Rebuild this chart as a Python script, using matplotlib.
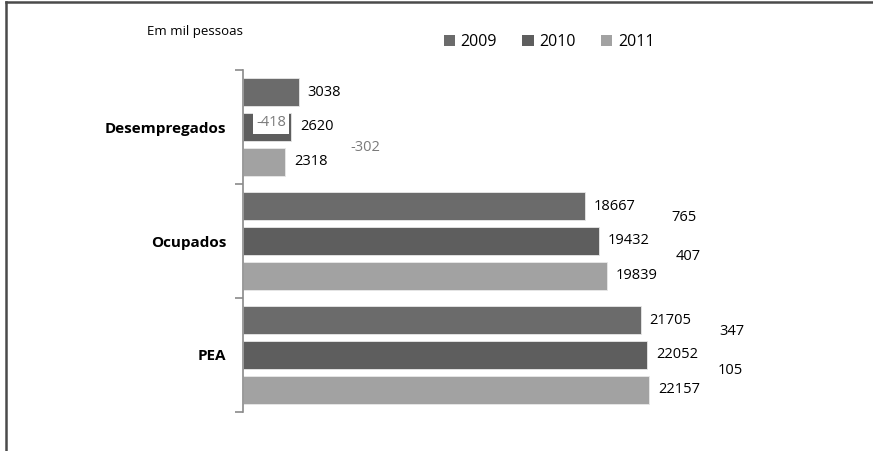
import matplotlib
matplotlib.use("Agg")
import matplotlib.pyplot as plt
from matplotlib.patches import Patch
from matplotlib.lines import Line2D
from matplotlib import transforms
import numpy as np

plt.rcParams['font.family'] = ['Open Sans', 'DejaVu Sans']

categories = ["Desempregados", "Ocupados", "PEA"]
years = ["2009", "2010", "2011"]
v2009 = [3038, 18667, 21705]
v2010 = [2620, 19432, 22052]
v2011 = [2318, 19839, 22157]
diff_09_10 = [-418, 765, 347]
diff_10_11 = [-302, 407, 105]

colors = ["#6b6b6b", "#5e5e5e", "#a2a2a2"]

W, H = 873, 451
fig = plt.figure(figsize=(W / 100, H / 100), dpi=100)

# axes placed in pixel terms: spine at x=243, bands from y=70 to y=412
left, right_px = 243, 843
top, bottom = 70, 412
ax = fig.add_axes([left / W, 1 - bottom / H, (right_px - left) / W, (bottom - top) / H])
px_per_unit = (649 - 243) / 22157.0
ax.set_xlim(0, (right_px - left) / px_per_unit)
ax.set_ylim(len(categories) - 0.5, -0.5)

y = np.arange(len(categories))
off = 0.305
hgt = 0.25
series = [v2009, v2010, v2011]
for i, vals in enumerate(series):
    ax.barh(y + (i - 1) * off, vals, height=hgt, color=colors[i],
            edgecolor="#e8e8e8", linewidth=0.6, zorder=2)

# value labels
for i, vals in enumerate(series):
    for j, v in enumerate(vals):
        tr = transforms.offset_copy(ax.transData, fig=fig, x=9, y=0, units='dots')
        ax.text(v, y[j] + (i - 1) * off, str(v), transform=tr, ha='left',
                va='center', fontsize=10.5, color='black', clip_on=False)

# differences
for j in range(len(categories)):
    d1, d2 = diff_09_10[j], diff_10_11[j]
    if j == 0:
        # the -418 sits inside the 2010 bar with a white box
        tr = transforms.offset_copy(ax.transData, fig=fig, x=13, y=4, units='dots')
        ax.text(0, y[j], str(d1), transform=tr, ha='left', va='center',
                fontsize=10.5, color='#7a7a7a', zorder=3,
                bbox=dict(facecolor='white', edgecolor='none', pad=2.5))
        xr = max(v2010[j], v2011[j])
        tr = transforms.offset_copy(ax.transData, fig=fig, x=59, y=-3, units='dots')
        ax.text(xr, y[j] + off / 2, str(d2), transform=tr, ha='left', va='center',
                fontsize=10.5, color='#7a7a7a', clip_on=False)
    else:
        xa = max(v2009[j], v2010[j])
        tr = transforms.offset_copy(ax.transData, fig=fig, x=72, y=6, units='dots')
        ax.text(xa, y[j] - off / 2, str(d1), transform=tr, ha='left', va='center',
                fontsize=10.5, color='black', clip_on=False)
        xb = max(v2010[j], v2011[j])
        tr = transforms.offset_copy(ax.transData, fig=fig, x=69, y=2, units='dots')
        ax.text(xb, y[j] + off / 2, str(d2), transform=tr, ha='left', va='center',
                fontsize=10.5, color='black', clip_on=False)

ax.set_yticks(y)
ax.set_yticklabels(categories, fontsize=11, fontweight='bold')
ax.tick_params(axis='y', which='major', length=0, pad=12)
ax.set_yticks(np.arange(-0.5, len(categories)), minor=True)
ax.tick_params(axis='y', which='minor', length=6, color='#8a8a8a', width=1.2)
ax.set_xticks([])
for s in ['top', 'right', 'bottom']:
    ax.spines[s].set_visible(False)
ax.spines['left'].set_color('#8a8a8a')
ax.spines['left'].set_linewidth(1.2)

fig.text(147 / W, 1 - 31 / H, "Em mil pessoas", fontsize=9.5, va='center', ha='left')

handles = [Patch(facecolor=c, edgecolor='none') for c in colors]
fig.legend(handles, years, loc='center', bbox_to_anchor=(549 / W, 1 - 42 / H),
           ncol=3, frameon=False, fontsize=11.5, handlelength=0.7, handleheight=0.7,
           handletextpad=0.35, columnspacing=1.6)

# outer frame (top and left edges only)
fig.add_artist(Line2D([6 / W, 1], [1 - 2 / H, 1 - 2 / H], transform=fig.transFigure,
                      color='#4a4a4a', linewidth=1.8))
fig.add_artist(Line2D([6 / W, 6 / W], [0, 1 - 2 / H], transform=fig.transFigure,
                      color='#4a4a4a', linewidth=1.8))

fig.savefig("out.png", dpi=100)
